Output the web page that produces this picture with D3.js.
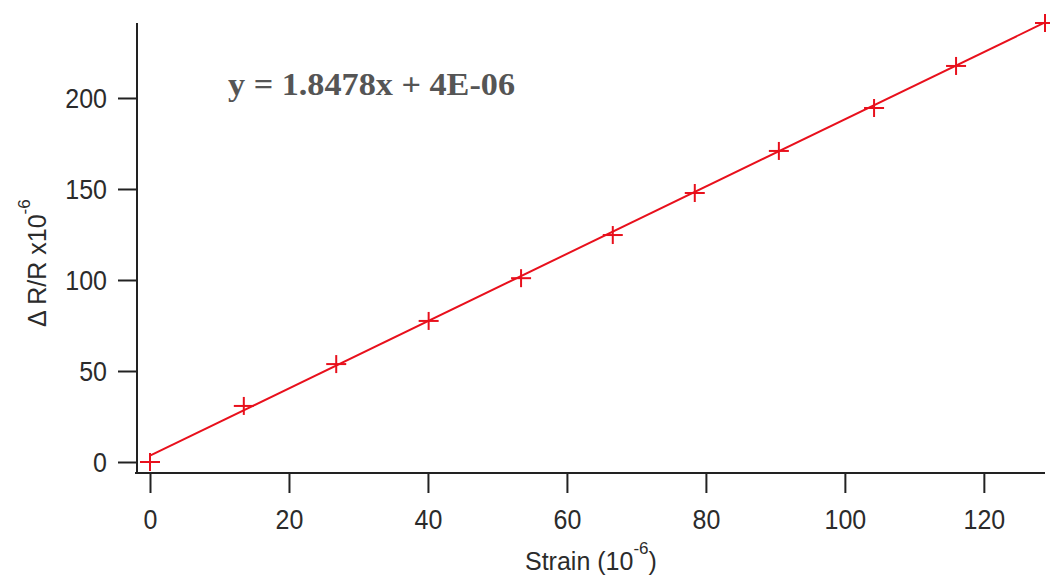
<!DOCTYPE html>
<html>
<head>
<meta charset="utf-8">
<script src="https://cdn.jsdelivr.net/npm/d3@7"></script>
<style>
  body { margin: 0; background: #fff; }
  svg { display: block; }
  .tick text {
    font-family: Arial, 'Liberation Sans', sans-serif; font-size: 25px; fill: #2b2b2b;
    transform-box: fill-box; transform-origin: center; transform: scaleY(1.1);
  }
</style>
</head>
<body>
<svg id="chart" width="1050" height="577"></svg>
<script>
// strain values (10^-6) and measured dR/R (x10^-6)
const strain = [0, 13.5, 26.8, 40.1, 53.4, 66.6, 78.4, 90.5, 104.2, 116.0, 128.8]
const dRR = [0, 30.8, 53.8, 77.5, 101, 124.7, 147.8, 170.9, 194.5, 217.6, 241.2]
// fitted line end points
const fitX = [0, 128.8]
const fitY = [3.5, 241.5]
const xTicks = [0, 20, 40, 60, 80, 100, 120]
const yTicks = [0, 50, 100, 150, 200]
const equation = 'y = 1.8478x + 4E-06'

function draw() {
  const svg = d3.select('#chart')
  const red = '#e8101c'
  const axisCol = '#222'

  const x = d3.scaleLinear().domain([0, 128.8]).range([150, 1045])
  const y = d3.scaleLinear().domain([0, 241.2]).range([462, 23])

  // x axis
  const gx = svg.append('g')
    .attr('transform', 'translate(0,473)')
    .call(d3.axisBottom(x).tickValues(xTicks).tickSize(20).tickPadding(17))
  gx.select('.domain').remove()
  gx.selectAll('.tick line').attr('stroke', axisCol).attr('stroke-width', 2)
  gx.append('line')
    .attr('x1', 135).attr('x2', 1045)
    .attr('stroke', axisCol).attr('stroke-width', 2)

  // y axis
  const gy = svg.append('g')
    .attr('transform', 'translate(137,0)')
    .call(d3.axisLeft(y).tickValues(yTicks).tickSize(19).tickPadding(11))
  gy.select('.domain').remove()
  gy.selectAll('.tick line').attr('stroke', axisCol).attr('stroke-width', 2)
  gy.selectAll('.tick text').attr('dy', '0.36em')
  gy.append('line')
    .attr('y1', 23).attr('y2', 474)
    .attr('stroke', axisCol).attr('stroke-width', 2)

  // fit line
  svg.append('line')
    .attr('x1', x(fitX[0])).attr('y1', y(fitY[0]))
    .attr('x2', x(fitX[1])).attr('y2', y(fitY[1]))
    .attr('stroke', red).attr('stroke-width', 2)

  // markers
  const pts = strain.map((s, i) => ({ s, v: dRR[i] }))
  const mk = svg.append('g').selectAll('g')
    .data(pts)
    .join('g')
    .attr('transform', d => `translate(${x(d.s)},${y(d.v)})`)
  mk.append('line').attr('x1', -10).attr('x2', 10)
    .attr('stroke', red).attr('stroke-width', 2)
  mk.append('line').attr('y1', -9).attr('y2', 9)
    .attr('stroke', red).attr('stroke-width', 2)

  // equation
  svg.append('text')
    .attr('x', 228).attr('y', 95)
    .attr('font-family', "'Liberation Serif', 'Times New Roman', serif")
    .attr('font-weight', 'bold')
    .attr('font-size', 32)
    .attr('fill', '#555')
    .attr('textLength', 287)
    .attr('lengthAdjust', 'spacingAndGlyphs')
    .text(equation)

  // x title
  const xt = svg.append('text')
    .attr('x', 525).attr('y', 570)
    .attr('font-family', 'Arial, sans-serif')
    .attr('font-size', 25)
    .attr('fill', '#2b2b2b')
  xt.append('tspan').text('Strain (10')
  xt.append('tspan').attr('dy', -16).attr('font-size', 17).text('-6')
  xt.append('tspan').attr('dy', 16).text(')')

  // y title
  const yt = svg.append('text')
    .attr('transform', 'translate(46,327) rotate(-90)')
    .attr('font-family', 'Arial, sans-serif')
    .attr('font-size', 25)
    .attr('fill', '#2b2b2b')
  yt.append('tspan').text('\u0394  R/R x10')
  yt.append('tspan').attr('dy', -16).attr('font-size', 17).text('-6')
}

document.addEventListener('DOMContentLoaded', draw, false)
</script>
</body>
</html>
